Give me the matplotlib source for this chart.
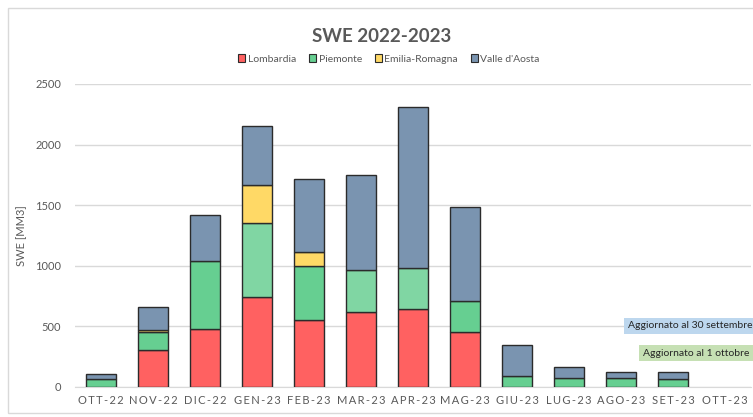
import matplotlib.pyplot as plt
import matplotlib
from matplotlib.patches import Rectangle
import numpy as np

matplotlib.rcParams['font.family'] = ['Lato', 'DejaVu Sans']
matplotlib.rcParams['font.size'] = 8

# dati (SWE in Mm3, valori cumulati per regione)
mesi = ['OTT-22', 'NOV-22', 'DIC-22', 'GEN-23', 'FEB-23', 'MAR-23', 'APR-23',
        'MAG-23', 'GIU-23', 'LUG-23', 'AGO-23', 'SET-23', 'OTT-23']
lombardia = [0, 301, 479, 737, 553, 616, 644, 447, 0, 0, 0, 0, 0]
piemonte = [65, 150, 556, 614, 447, 349, 334, 257, 87, 73, 73, 60, 0]
emilia = [0, 14, 0, 315, 113, 0, 0, 0, 0, 0, 0, 0, 0]
valle = [36, 190, 382, 491, 602, 783, 1335, 781, 255, 86, 47, 58, 0]

regioni = ['Lombardia', 'Piemonte', 'Emilia-Romagna', "Valle d'Aosta"]
colori = ['#FF6161', '#66CF91', '#FFD966', '#7A94B0']
# alcuni mesi hanno il verde più chiaro
verde_chiaro = '#80D6A3'

fig = plt.figure(figsize=(7.53, 4.17), dpi=100)
ax = fig.add_axes([75/753, 1-386.6/417, 676/753, 302.6/417])

x = np.arange(len(mesi))
w = 0.56
serie = [lombardia, piemonte, emilia, valle]
bottom = np.zeros(len(mesi))
for nome, col, val in zip(regioni, colori, serie):
    val = np.array(val, dtype=float)
    cols = [col] * len(mesi)
    if nome == 'Piemonte':
        for i in (3, 5, 6):
            cols[i] = verde_chiaro
    lw = [1.0 if v > 0 else 0 for v in val]
    ax.bar(x, val, bottom=bottom, width=w, color=cols, edgecolor='#2b2b2b',
           linewidth=lw, label=nome, zorder=3)
    bottom += val

ax.set_xlim(-0.5, len(mesi) - 0.5)
ax.set_ylim(0, 2500)
ax.set_yticks(range(0, 2501, 500))
ax.set_xticks(x)
ax.set_xticklabels(['\u2009'.join(m) for m in mesi], color='#595959', fontsize=8)
ax.tick_params(axis='y', colors='#595959', labelsize=8, length=0, pad=10)
ax.tick_params(axis='x', length=0, pad=6)
ax.grid(axis='y', color='#d9d9d9', linewidth=1, zorder=0)
for s in ['top', 'right', 'left']:
    ax.spines[s].set_visible(False)
ax.spines['bottom'].set_color('#d9d9d9')
ax.set_ylabel('SWE [MM3]', color='#595959', fontsize=8, labelpad=6)

fig.text(382/753, 1-37/417, 'SWE 2022-2023', ha='center', va='center',
         fontsize=13.5, fontweight='bold', color='#595959')
leg = fig.legend(loc='center', bbox_to_anchor=(389/753, 1-59/417), ncol=4, frameon=False,
                 fontsize=7.5, handlelength=0.7, handleheight=0.7, handletextpad=0.25,
                 columnspacing=1.2, labelcolor='#595959')
for h in leg.legend_handles:
    h.set_linewidth(0.8)

fig.text(628/753, 1-326/417, 'Aggiornato al 30 settembre', ha='left', va='center',
         fontsize=7.5, color='#262626',
         bbox=dict(boxstyle='square,pad=0.35', fc='#BDD7EE', ec='none'))
fig.text(643/753, 1-353/417, 'Aggiornato al 1 ottobre', ha='left', va='center',
         fontsize=7.5, color='#262626',
         bbox=dict(boxstyle='square,pad=0.35', fc='#C6E0B4', ec='none'))

fig.patches.append(Rectangle((8/753, 1-413/417), 760/753, 405/417,
                             transform=fig.transFigure, fill=False,
                             ec='#d9d9d9', lw=1))

fig.savefig('out.png', dpi=100)
